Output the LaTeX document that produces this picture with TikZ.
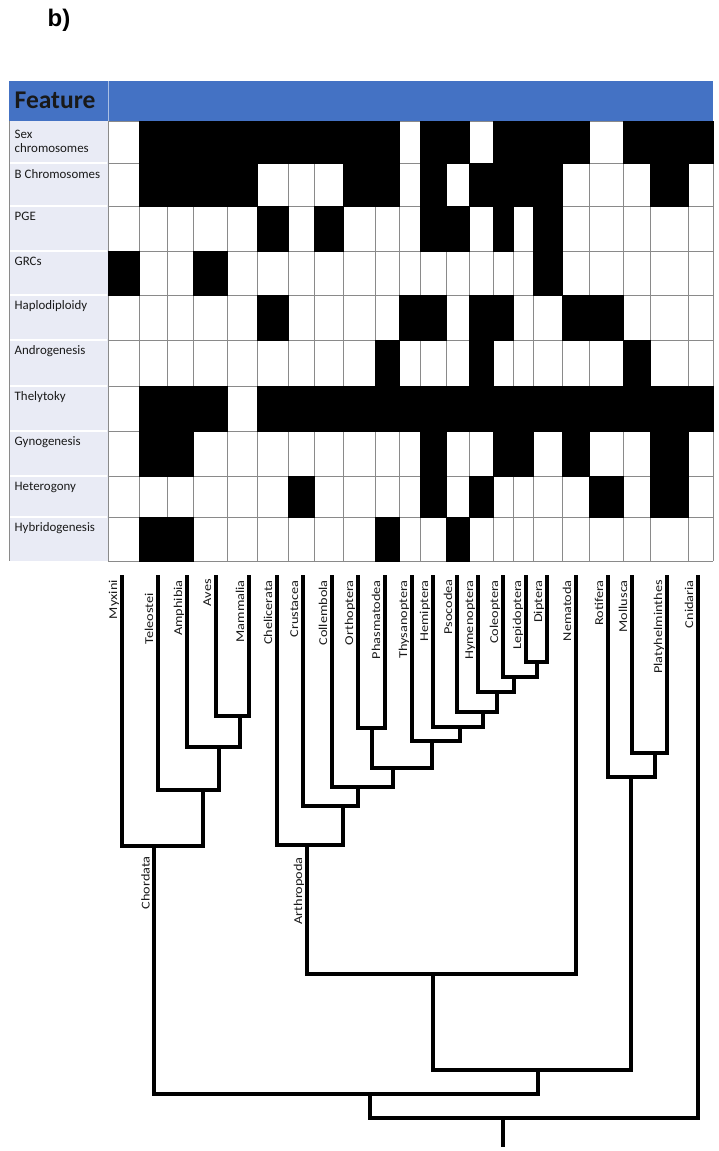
\documentclass[tikz,border=0pt]{standalone}
\usepackage{fontspec}
\setmainfont{Carlito}
\newfontfamily\treefont[FakeStretch=1.19]{Carlito}
\newfontfamily\panelfont{Liberation Sans}
\usetikzlibrary{calc}
\definecolor{hdrblue}{HTML}{4472C4}
\definecolor{lav}{HTML}{E9EBF5}
\definecolor{gridgray}{HTML}{8A8A8A}
\definecolor{txt}{HTML}{1A1A1A}
\begin{document}
\begin{tikzpicture}[x=1pt,y=-1pt,line join=miter,
  tree/.style={draw=black,line width=3.8pt},
  tiplabel/.style={font=\treefont\fontsize{12}{13}\selectfont,text=txt,rotate=90,anchor=base east,inner sep=0pt},
  rowlabel/.style={font=\fontsize{12.9}{14.4}\selectfont,text=txt,anchor=base west,inner sep=0pt},
  cellgrid/.style={draw=gridgray,line width=0.9pt}]
\useasboundingbox (0,0) rectangle (718,1151);
\fill[white] (0,0) rectangle (718,1151);

% panel letter
\node[font=\panelfont\bfseries\fontsize{24}{26}\selectfont,anchor=base west,inner sep=0pt] (panel) at (47.5,26.7) {b)};

% header
\fill[hdrblue] (9,81) rectangle (713,121);
\draw[white!55!hdrblue,line width=0.8pt] (108,81) -- (108,121);
\node[font=\bfseries\fontsize{25.5}{28}\selectfont,text=black!90,anchor=base west,inner sep=0pt] (feat) at (14.5,108.3) {Feature};

% label column
\fill[lav] (9,121) rectangle (108,561);
\foreach \y in {163,206,251,295,340,386,431,476,517}
  \draw[white,line width=1.5pt] (9,\y) -- (107,\y);
\draw[gridgray,line width=0.9pt] (9,121) -- (9,561);

% grid cells
\fill[white] (108,121) rectangle (713,561);
\foreach \x in {108,139,167,193,227,257,288,314,343,375,399,420,446,469,493,513,533,562,589,623,650,688,713}
  \draw[cellgrid] (\x,121) -- (\x,561);
\foreach \y in {121,163,206,251,295,340,386,431,476,517,561}
  \draw[cellgrid] (108,\y) -- (713,\y);

\def\cb{{108,139,167,193,227,257,288,314,343,375,399,420,446,469,493,513,533,562,589,623,650,688,713}}
\def\rb{{121,163,206,251,295,340,386,431,476,517,561}}
\foreach \r/\cols in {
  1/{2,3,4,5,6,7,8,9,10,12,13,15,16,17,18,20,21,22},
  2/{2,3,4,5,9,10,12,14,15,16,17,21},
  3/{6,8,12,13,15,17},
  4/{1,4,17},
  5/{6,11,12,14,15,18,19},
  6/{10,14,20},
  7/{2,3,4,6,7,8,9,10,11,12,13,14,15,16,17,18,19,20,21,22},
  8/{2,3,12,15,16,18,21},
  9/{7,12,14,19,21},
  10/{2,3,10,13}}{
  \foreach \c in \cols {
    \pgfmathsetmacro\xa{\cb[\c-1]-0.5}
    \pgfmathsetmacro\xb{\cb[\c]+0.5}
    \pgfmathsetmacro\ya{\rb[\r-1]-0.5}
    \pgfmathsetmacro\yb{\rb[\r]+0.5}
    \fill[black] (\xa,\ya) rectangle (\xb,\yb);
  }
}

% row labels
\node[rowlabel] (r1a) at (14.5,138) {Sex};
\node[rowlabel] (r1b) at (14.5,152.6) {chromosomes};
\node[rowlabel] (r2) at (14.5,178.6) {B Chromosomes};
\node[rowlabel] (r3) at (14.5,220.8) {PGE};
\node[rowlabel] (r4) at (14.5,265.8) {GRCs};
\node[rowlabel] (r5) at (14.5,309.6) {Haplodiploidy};
\node[rowlabel] (r6) at (14.5,354.8) {Androgenesis};
\node[rowlabel] (r7) at (14.5,400.8) {Thelytoky};
\node[rowlabel] (r8) at (14.5,445.6) {Gynogenesis};
\node[rowlabel] (r9) at (14.5,490.6) {Heterogony};
\node[rowlabel] (r10) at (14.5,531.8) {Hybridogenesis};

% tree: tips
\coordinate (Myx) at (122,575);
\coordinate (Tel) at (158,575);
\coordinate (Amp) at (187,575);
\coordinate (Ave) at (216,575);
\coordinate (Mam) at (249,575);
\coordinate (Che) at (277,575);
\coordinate (Cru) at (303,575);
\coordinate (Col) at (332,575);
\coordinate (Ort) at (358,575);
\coordinate (Pha) at (385,575);
\coordinate (Thy) at (412,575);
\coordinate (Hem) at (433,575);
\coordinate (Pso) at (457,575);
\coordinate (Hym) at (478,575);
\coordinate (Coe) at (503,575);
\coordinate (Lep) at (526,575);
\coordinate (Dip) at (547,575);
\coordinate (Nem) at (576,575);
\coordinate (Rot) at (608,575);
\coordinate (Mol) at (632,575);
\coordinate (Pla) at (667,575);
\coordinate (Cni) at (698,575);
% internal nodes
\coordinate (nAM) at (240,716);
\coordinate (nAAM) at (219,747);
\coordinate (nTAAM) at (203,790);
\coordinate (cho) at (154,846);
\coordinate (nLD) at (537,662);
\coordinate (nCLD) at (514,677);
\coordinate (nHCLD) at (497,692);
\coordinate (nPH) at (483,712);
\coordinate (nHP) at (460,727);
\coordinate (nTH) at (432,741);
\coordinate (nOP) at (372,728);
\coordinate (nIns) at (393,768);
\coordinate (nCol) at (358,787);
\coordinate (nCru) at (343,806);
\coordinate (art) at (307,845);
\coordinate (nAN) at (433,974);
\coordinate (nMP) at (655,753);
\coordinate (nRMP) at (631,777);
\coordinate (nPro) at (538,1070);
\coordinate (nBil) at (370,1094);
\coordinate (root) at (503,1118);
\coordinate (rootend) at (503,1147);

\draw[tree] (Ave) |- (nAM) -| (Mam);
\draw[tree] (Amp) |- (nAAM) -| (nAM);
\draw[tree] (Tel) |- (nTAAM) -| (nAAM);
\draw[tree] (Myx) |- (cho) -| (nTAAM);
\draw[tree] (Lep) |- (nLD) -| (Dip);
\draw[tree] (Coe) |- (nCLD) -| (nLD);
\draw[tree] (Hym) |- (nHCLD) -| (nCLD);
\draw[tree] (Pso) |- (nPH) -| (nHCLD);
\draw[tree] (Hem) |- (nHP) -| (nPH);
\draw[tree] (Thy) |- (nTH) -| (nHP);
\draw[tree] (Ort) |- (nOP) -| (Pha);
\draw[tree] (nOP) |- (nIns) -| (nTH);
\draw[tree] (Col) |- (nCol) -| (nIns);
\draw[tree] (Cru) |- (nCru) -| (nCol);
\draw[tree] (Che) |- (art) -| (nCru);
\draw[tree] (art) |- (nAN) -| (Nem);
\draw[tree] (Mol) |- (nMP) -| (Pla);
\draw[tree] (Rot) |- (nRMP) -| (nMP);
\draw[tree] (nAN) |- (nPro) -| (nRMP);
\draw[tree] (cho) |- (nBil) -| (nPro);
\draw[tree] (nBil) |- (root) -| (Cni);
\draw[tree] (root) -- (rootend);

% tip labels
\node[tiplabel] (lMyx) at ($(Myx)+(-5,5)$) {Myxini};
\node[tiplabel] (lTel) at ($(Tel)+(-5,18)$) {Teleostei};
\node[tiplabel] (lAmp) at ($(Amp)+(-5,5)$) {Amphibia};
\node[tiplabel] (lAve) at ($(Ave)+(-5,4)$) {Aves};
\node[tiplabel] (lMam) at ($(Mam)+(-5,5)$) {Mammalia};
\node[tiplabel] (lChe) at ($(Che)+(-5,5)$) {Chelicerata};
\node[tiplabel] (lCru) at ($(Cru)+(-5,5)$) {Crustacea};
\node[tiplabel] (lCol) at ($(Col)+(-5,5)$) {Collembola};
\node[tiplabel] (lOrt) at ($(Ort)+(-5,5)$) {Orthoptera};
\node[tiplabel] (lPha) at ($(Pha)+(-5,5)$) {Phasmatodea};
\node[tiplabel] (lThy) at ($(Thy)+(-5,5)$) {Thysanoptera};
\node[tiplabel] (lHem) at ($(Hem)+(-5,5)$) {Hemiptera};
\node[tiplabel] (lPso) at ($(Pso)+(-5,4)$) {Psocodea};
\node[tiplabel] (lHym) at ($(Hym)+(-5,5)$) {Hymenoptera};
\node[tiplabel] (lCoe) at ($(Coe)+(-5,5)$) {Coleoptera};
\node[tiplabel] (lLep) at ($(Lep)+(-5,5)$) {Lepidoptera};
\node[tiplabel] (lDip) at ($(Dip)+(-5,5)$) {Diptera};
\node[tiplabel] (lNem) at ($(Nem)+(-5,5)$) {Nematoda};
\node[tiplabel] (lRot) at ($(Rot)+(-5,5)$) {Rotifera};
\node[tiplabel] (lMol) at ($(Mol)+(-5,5)$) {Mollusca};
\node[tiplabel] (lPla) at ($(Pla)+(-5,5)$) {Platyhelminthes};
\node[tiplabel] (lCni) at ($(Cni)+(-5,5)$) {Cnidaria};
\node[tiplabel] (lCho) at ($(cho)+(-4.5,10)$) {Chordata};
\node[tiplabel] (lArt) at ($(art)+(-5,12)$) {Arthropoda};
\end{tikzpicture}
\end{document}
